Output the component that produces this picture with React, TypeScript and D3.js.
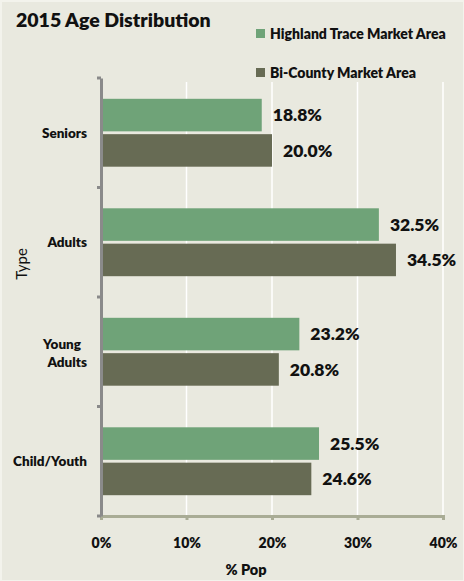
import React, { useEffect, useRef } from "react";
import * as d3 from "d3";

const categories = ["Seniors", "Adults", "Young Adults", "Child/Youth"];
const seriesNames = ["Highland Trace Market Area", "Bi-County Market Area"];
const highlandValues = [18.8, 32.5, 23.2, 25.5];
const biCountyValues = [20.0, 34.5, 20.8, 24.6];
const xTicks = [0, 10, 20, 30, 40];
const colors = ["#6fa378", "#676b54"];

export default function App() {
  const svgRef = useRef<SVGSVGElement>(null);

  useEffect(() => {
    const svg = d3.select(svgRef.current);
    svg.selectAll("*").remove();

    const W = 464;
    const H = 581;
    const font = "Lato, 'Open Sans', sans-serif";

    // background
    svg.append("rect").attr("width", W).attr("height", H).attr("fill", "#f3f3ec");
    svg
      .append("rect")
      .attr("x", 2)
      .attr("y", 2)
      .attr("width", W - 3)
      .attr("height", H - 3)
      .attr("fill", "#e9e9df");

    const plot = { left: 101, right: 443, top: 78, bottom: 516 };

    const x = d3.scaleLinear().domain([0, 40]).range([plot.left, plot.right]);
    const y0 = d3
      .scaleBand()
      .domain(categories)
      .range([plot.top, plot.bottom])
      .paddingInner(0.38)
      .paddingOuter(0.19);
    const y1 = d3
      .scaleBand()
      .domain(seriesNames)
      .range([0, y0.bandwidth()])
      .paddingInner(0.08);

    // gridlines
    svg
      .append("g")
      .selectAll("line")
      .data(xTicks.slice(1))
      .join("line")
      .attr("x1", (d) => x(d))
      .attr("x2", (d) => x(d))
      .attr("y1", plot.top + 4)
      .attr("y2", plot.bottom)
      .attr("stroke", "#ffffff")
      .attr("stroke-width", 1.5);

    const rows = categories.map((c, i) => ({
      cat: c,
      vals: [highlandValues[i], biCountyValues[i]],
    }));

    const groups = svg
      .append("g")
      .selectAll("g")
      .data(rows)
      .join("g")
      .attr("transform", (d) => `translate(0,${y0(d.cat)})`);

    groups
      .selectAll("rect")
      .data((d) => d.vals.map((v, j) => ({ v, s: seriesNames[j], j })))
      .join("rect")
      .attr("x", plot.left)
      .attr("y", (d) => y1(d.s)!)
      .attr("width", (d) => x(d.v) - plot.left)
      .attr("height", y1.bandwidth())
      .attr("fill", (d) => colors[d.j]);

    groups
      .selectAll("text")
      .data((d) => d.vals.map((v, j) => ({ v, s: seriesNames[j] })))
      .join("text")
      .attr("x", (d) => x(d.v) + 11)
      .attr("y", (d) => y1(d.s)! + y1.bandwidth() / 2)
      .attr("dy", "0.36em")
      .attr("font-family", font)
      .attr("font-weight", 800)
      .attr("font-size", 17.5)
      .attr("fill", "#111")
      .text((d) => d.v.toFixed(1) + "%");

    // x axis
    const xAxis = svg
      .append("g")
      .attr("transform", `translate(0,${plot.bottom})`)
      .call(d3.axisBottom(x).tickValues(xTicks).tickSize(4).tickFormat((d) => d + "%"));
    xAxis.select(".domain").attr("stroke", "#a9ac95").attr("stroke-width", 3);
    xAxis.selectAll(".tick line").attr("stroke", "#a9ac95").attr("stroke-width", 3);
    xAxis
      .selectAll(".tick text")
      .attr("font-family", font)
      .attr("font-weight", 800)
      .attr("font-size", 14)
      .attr("fill", "#111")
      .attr("dy", "1.75em");

    // y axis
    const yAxis = svg
      .append("g")
      .attr("transform", `translate(${plot.left},0)`)
      .call(d3.axisLeft(y0).tickSize(0).tickFormat(() => ""));
    yAxis.select(".domain").attr("stroke", "#8a8a8a").attr("stroke-width", 3);
    // category boundary ticks
    yAxis
      .selectAll(".bound")
      .data(d3.range(categories.length + 1))
      .join("line")
      .attr("x1", -4)
      .attr("x2", 0)
      .attr("y1", (i) => plot.top + (i * (plot.bottom - plot.top)) / categories.length)
      .attr("y2", (i) => plot.top + (i * (plot.bottom - plot.top)) / categories.length)
      .attr("stroke", "#8a8a8a")
      .attr("stroke-width", 3);

    // category labels
    const catLabels = svg
      .append("g")
      .selectAll("text")
      .data(categories)
      .join("text")
      .attr("x", 87)
      .attr("y", (d) => y0(d)! + y0.bandwidth() / 2)
      .attr("text-anchor", "end")
      .attr("font-family", font)
      .attr("font-weight", 800)
      .attr("font-size", 13.5)
      .attr("fill", "#111");
    catLabels.each(function (d) {
      const t = d3.select(this);
      if (d === "Young Adults") {
        t.append("tspan").attr("x", 81).attr("dy", "-0.2em").text("Young");
        t.append("tspan").attr("x", 87).attr("dy", "1.3em").text("Adults");
      } else {
        t.attr("dy", "0.36em").text(d);
      }
    });

    // axis titles
    svg
      .append("text")
      .attr("transform", `translate(27,264) rotate(-90)`)
      .attr("text-anchor", "middle")
      .attr("font-family", font)
      .attr("font-size", 15)
      .attr("fill", "#111")
      .text("Type");
    svg
      .append("text")
      .attr("x", 246)
      .attr("y", 575)
      .attr("text-anchor", "middle")
      .attr("font-family", font)
      .attr("font-weight", 800)
      .attr("font-size", 14.5)
      .attr("fill", "#111")
      .text("% Pop");

    // title
    svg
      .append("text")
      .attr("x", 16)
      .attr("y", 27)
      .attr("font-family", font)
      .attr("font-weight", 800)
      .attr("font-size", 19.5)
      .attr("fill", "#111")
      .text("2015 Age Distribution");

    // legend
    const legend = svg
      .append("g")
      .selectAll("g")
      .data(seriesNames)
      .join("g")
      .attr("transform", (d, i) => `translate(256,${29 + i * 39})`);
    legend
      .append("rect")
      .attr("width", 9)
      .attr("height", 9)
      .attr("fill", (d, i) => colors[i]);
    legend
      .append("text")
      .attr("x", 14)
      .attr("y", 4.5)
      .attr("dy", "0.36em")
      .attr("font-family", font)
      .attr("font-weight", 800)
      .attr("font-size", 14)
      .attr("fill", "#111")
      .text((d) => d);
  }, []);

  return (
    <svg
      ref={svgRef}
      width={464}
      height={581}
      style={{ position: "absolute", left: 0, top: 0, display: "block" }}
    />
  );
}
